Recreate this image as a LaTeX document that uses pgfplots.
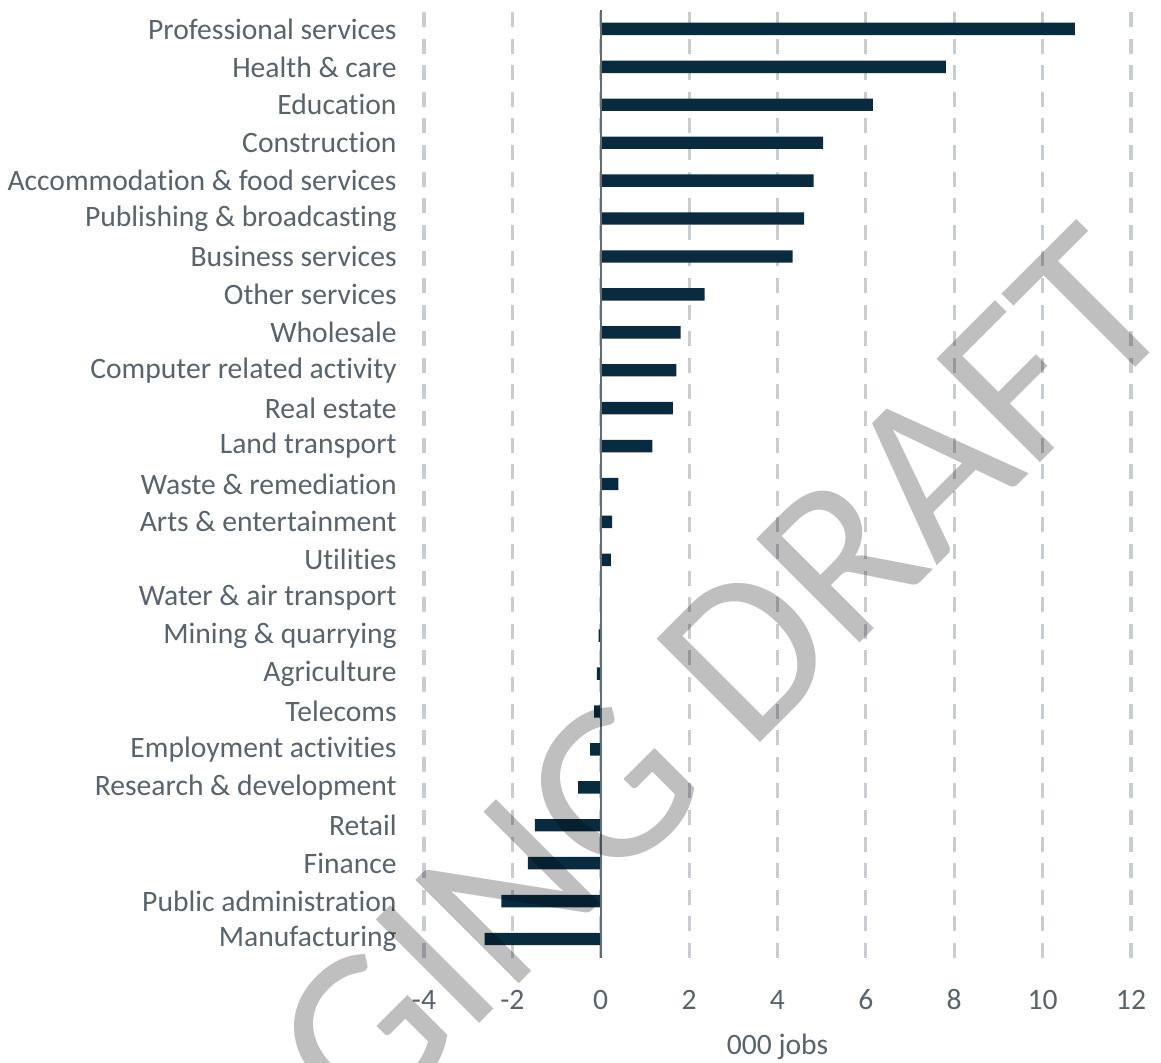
\documentclass[border=0pt]{standalone}
\usepackage{pgfplots}
\pgfplotsset{compat=1.18}
\usepackage{fontspec}
\setmainfont{Carlito}[Ligatures=NoCommon]
\newfontfamily\wmfont{Carlito}[Ligatures=NoCommon]
\definecolor{barc}{RGB}{8,43,63}
\definecolor{txtc}{RGB}{89,99,110}
\definecolor{gridc}{RGB}{200,205,210}
\definecolor{zeroc}{RGB}{95,107,117}
\begin{document}
\begin{tikzpicture}
\clip (-212pt,-52.5pt) rectangle (368.5pt,479pt);
\begin{axis}[
  at={(0,0)}, anchor=south west,
  scale only axis, width=353.5pt, height=474pt,
  xmin=-4, xmax=12, ymin=-0.5, ymax=24.5,
  xtick={-4,-2,...,12},
  ytick={0,...,24},
  yticklabels={Manufacturing, Public administration, Finance, Retail, Research \& development, Employment activities, Telecoms, Agriculture, Mining \& quarrying, Water \& air transport, Utilities, Arts \& entertainment, Waste \& remediation, Land transport, Real estate, Computer related activity, Wholesale, Other services, Business services, Publishing \& broadcasting, Accommodation \& food services, Construction, Education, Health \& care, Professional services},
  axis line style={draw=none},
  tick style={draw=none},
  major tick length=0pt,
  xmajorgrids,
  grid style={color=gridc, line width=1.6pt, dash pattern=on 7.5pt off 5.8pt},
  /pgf/number format/assume math mode=true,
  xticklabel style={font=\fontsize{14.8}{17}\selectfont, text=txtc, anchor=center, yshift=-21pt},
  yticklabel style={font=\fontsize{14.8}{17}\selectfont, text=txtc, anchor=east, inner sep=0pt, xshift=-13.5pt},
  xlabel={000 jobs},
  xlabel style={font=\fontsize{14.8}{17}\selectfont, text=txtc, at={(axis description cs:0.5,0)}, anchor=center, yshift=-44.5pt},
  clip=false,
]
\addplot[xbar, bar width=6.2pt, fill=barc, draw=none] coordinates {
  (-2.63,0) (-2.25,1) (-1.65,2) (-1.49,3) (-0.51,4) (-0.24,5) (-0.15,6) (-0.09,7) (-0.05,8) (0.01,9)
  (0.23,10) (0.26,11) (0.40,12) (1.17,13) (1.63,14) (1.71,15) (1.81,16) (2.35,17) (4.34,18) (4.60,19)
  (4.82,20) (5.03,21) (6.16,22) (7.81,23) (10.73,24)
};
\draw[zeroc, line width=1pt] (axis cs:0,-0.5) -- (axis cs:0,24.5);
\end{axis}
\node[rotate=45, anchor=base, text=black, text opacity=0.25, font=\wmfont\fontsize{114}{114}\selectfont] at (117pt,56.5pt) {STAGING DRAFT};
\end{tikzpicture}
\end{document}
